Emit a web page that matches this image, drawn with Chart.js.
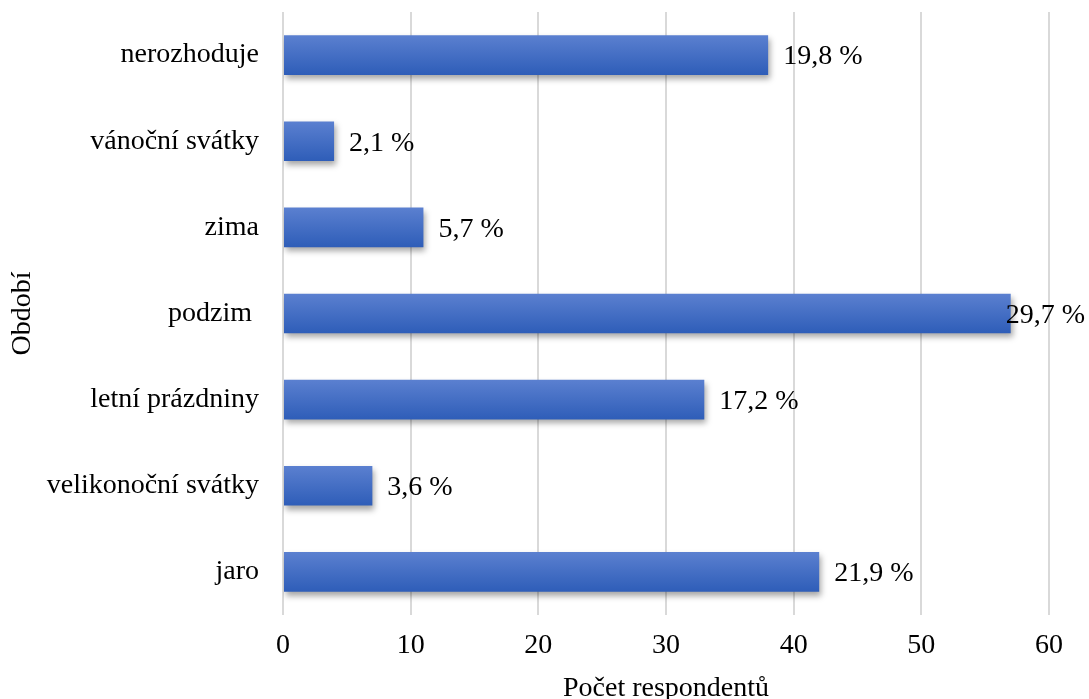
<!DOCTYPE html>
<html>
<head>
<meta charset="utf-8">
<script src="https://cdn.jsdelivr.net/npm/chart.js@4"></script>
<style>
  html, body { margin: 0; padding: 0; background: #fff; }
  #wrap { width: 1089px; height: 699px; }
</style>
</head>
<body>
<div id="wrap"><canvas id="chart" width="1089" height="699"></canvas></div>
<script>
// Data (top to bottom as shown)
const categories = ['nerozhoduje', 'vánoční svátky', 'zima', 'podzim ', 'letní prázdniny', 'velikonoční svátky', 'jaro'];
const counts = [38, 4, 11, 57, 33, 7, 42];
const percentLabels = ['19,8 %', '2,1 %', '5,7 %', '29,7 %', '17,2 %', '3,6 %', '21,9 %'];
const xTicks = [0, 10, 20, 30, 40, 50, 60];

const FONT = '"Liberation Serif", "Times New Roman", serif';
const FS = 28;

// Gradient fill per bar
function barGradient(c) {
    const chart = c.chart;
    const y = chart.scales.y;
    if (!y || !chart.chartArea || c.dataIndex === undefined) return '#4472c4';
    const cy = y.getPixelForValue(c.dataIndex);
    const h = 20;
    const g = chart.ctx.createLinearGradient(0, cy - h, 0, cy + h);
    g.addColorStop(0, '#5b80d0');
    g.addColorStop(1, '#2e5db8');
    return g;
}

// Shadow under bars
const shadowPlugin = {
    id: 'barShadow',
    beforeDatasetsDraw(chart) {
        const ctx = chart.ctx;
        ctx.save();
        ctx.shadowColor = 'rgba(0,0,0,0.35)';
        ctx.shadowBlur = 6;
        ctx.shadowOffsetX = 2;
        ctx.shadowOffsetY = 4;
    },
    afterDatasetsDraw(chart) {
        chart.ctx.restore();
    }
};

// Percent labels at bar ends
const labelPlugin = {
    id: 'pctLabels',
    afterDraw(chart) {
        const ctx = chart.ctx;
        const meta = chart.getDatasetMeta(0);
        ctx.save();
        ctx.font = FS + 'px ' + FONT;
        ctx.fillStyle = '#000';
        ctx.textBaseline = 'middle';
        ctx.textAlign = 'left';
        meta.data.forEach((bar, i) => {
            const txt = percentLabels[i];
            const w = ctx.measureText(txt).width;
            let x = bar.x + 15;
            if (x + w > chart.width - 4) x = chart.width - 4 - w;
            ctx.fillText(txt, x, bar.y + 2);
        });
        ctx.restore();
    }
};

new Chart(document.getElementById('chart'), {
    type: 'bar',
    data: {
        labels: categories,
        datasets: [{
            data: counts,
            backgroundColor: barGradient,
            borderWidth: 0,
            barPercentage: 0.46,
            categoryPercentage: 1.0
        }]
    },
    plugins: [shadowPlugin, labelPlugin],
    options: {
        indexAxis: 'y',
        responsive: false,
        animation: false,
        layout: { padding: { top: 12, right: 40, bottom: 0, left: 0 } },
        plugins: {
            legend: { display: false },
            tooltip: { enabled: false }
        },
        scales: {
            x: {
                min: 0,
                max: 60,
                afterBuildTicks: (s) => { s.ticks = xTicks.map(v => ({ value: v })); },
                afterFit: (s) => { s.height = 84; },
                grid: { color: '#d9d9d9', lineWidth: 2, drawTicks: false },
                border: { display: false },
                ticks: {
                    padding: 14,
                    color: '#000',
                    font: { family: FONT, size: FS }
                },
                title: {
                    display: true,
                    text: 'Počet respondentů',
                    color: '#000',
                    font: { family: FONT, size: FS },
                    padding: { top: 14, bottom: -6 }
                }
            },
            y: {
                afterFit: (s) => {
                    s.width = 283;
                    s.paddingTop = 0;
                    s.paddingBottom = 0;
                },
                grid: { display: false, drawTicks: false },
                border: { display: false },
                ticks: {
                    padding: 24,
                    color: '#000',
                    font: { family: FONT, size: FS }
                },
                title: {
                    display: true,
                    text: 'Období',
                    color: '#000',
                    font: { family: FONT, size: FS },
                    padding: { top: 6, bottom: 0 }
                }
            }
        }
    }
});
</script>
</body>
</html>
